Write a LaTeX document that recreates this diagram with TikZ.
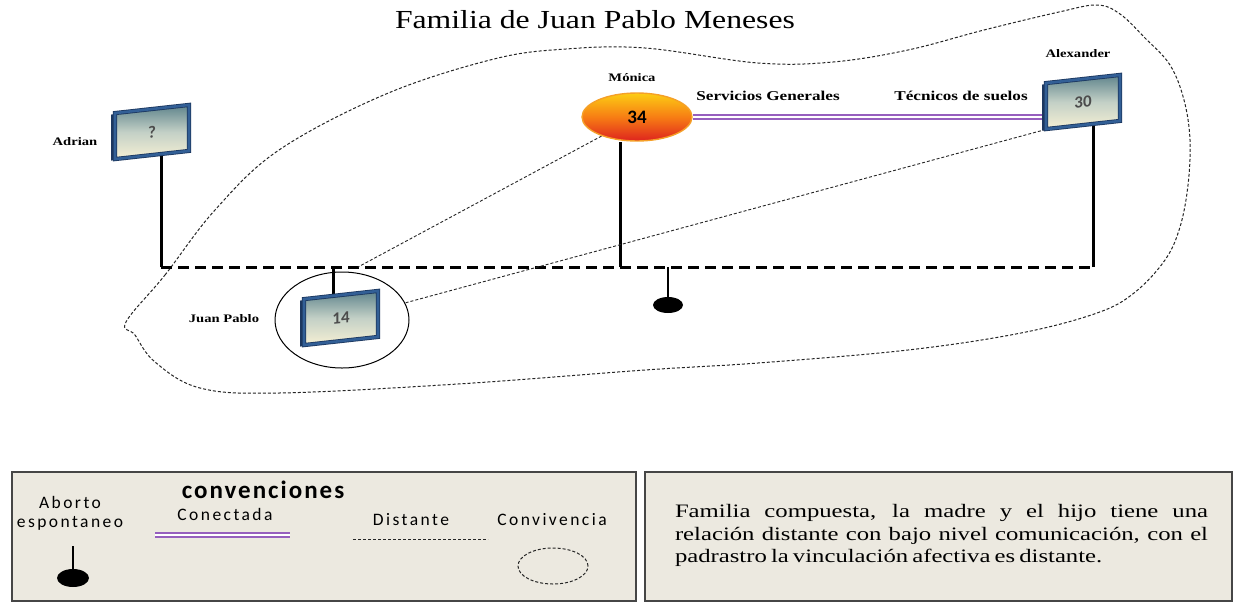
\documentclass[tikz,border=0pt]{standalone}
\usepackage{fontspec}
\setmainfont{Liberation Serif}
\newfontfamily\titlef[FakeStretch=1.22]{Liberation Serif}
\newfontfamily\labf[FakeStretch=1.27]{Liberation Serif}
\newfontfamily\notef[FakeStretch=1.3]{Liberation Serif}
\newfontfamily\calf{Carlito}
\newfontfamily\calls[LetterSpace=14]{Carlito}
\newfontfamily\calconv[LetterSpace=8]{Carlito}
\usetikzlibrary{shapes.geometric,backgrounds,shadows}

\definecolor{frameblue}{RGB}{50,95,150}
\definecolor{framedark}{RGB}{28,55,95}
\definecolor{paneltop}{RGB}{95,132,140}
\definecolor{panelmid}{RGB}{195,208,198}
\definecolor{panelbot}{RGB}{246,240,212}
\definecolor{conpurple}{RGB}{150,95,190}
\definecolor{legfill}{RGB}{236,233,224}
\definecolor{legdraw}{RGB}{70,70,70}
\definecolor{montop}{RGB}{252,205,20}
\definecolor{monmid}{RGB}{247,125,20}
\definecolor{monbot}{RGB}{222,35,30}
\definecolor{monrim}{RGB}{245,160,40}

\tikzset{
  person/.style={rectangle, draw=framedark, double=frameblue, double distance=2.6pt, line width=0.8pt,
    minimum width=74, minimum height=46,
    inner sep=0, top color=paneltop, bottom color=panelbot, middle color=panelmid, yslant=0.11,
    general shadow={fill=framedark, shadow xshift=-4pt, shadow yshift=-1.5pt},
    font=\calf\bfseries\fontsize{17}{17}\selectfont, text=black!70},
  mother/.style={ellipse, draw=monrim, line width=1.4pt, minimum width=110, minimum height=48, inner sep=0,
    top color=montop, bottom color=monbot, middle color=monmid,
    font=\calf\bfseries\fontsize{19}{19}\selectfont, text=black},
  namelab/.style={font=\labf\bfseries\fontsize{11.5}{12}\selectfont, inner sep=0},
  rellab/.style={font=\labf\bfseries\fontsize{13.5}{14}\selectfont, inner sep=0},
  stem/.style={line width=3pt},
  famline/.style={line width=3pt, dash pattern=on 11pt off 6pt},
  distant/.style={line width=0.9pt, dash pattern=on 3pt off 2pt, black!85},
  conectada/.style={draw=conpurple, double=white, double distance=2.2pt, line width=2pt},
  legbox/.style={rectangle, draw=legdraw, line width=2pt, fill=legfill, inner sep=0},
  legtext/.style={font=\calls\fontsize{17.5}{19}\selectfont, inner sep=0, align=center},
  abortion/.style={ellipse, fill=black, inner sep=0}
}

\begin{document}
\begin{tikzpicture}[x=1pt,y=-1pt]
\useasboundingbox (0,0) rectangle (1238,603);

% title
\node[font=\titlef\fontsize{26}{30}\selectfont, inner sep=0] (title) at (595,20) {Familia de Juan Pablo Meneses};

% people
\node[person] (adr) at (152,132) {?};
\node[mother] (mon) at (637,117) {34};
\node[person] (alex) at (1083,102) {30};
\node[person] (jp) at (341,318) {14};
\node[ellipse, draw, line width=1pt, minimum width=134, minimum height=96, inner sep=0] (jpc) at (342,320) {};
\node[abortion, minimum width=30, minimum height=16] (ab1) at (668,305) {};

% name labels
\node[namelab] (adrL) at (75,142) {Adrian};
\node[namelab] (monL) at (632,78) {Mónica};
\node[namelab] (alexL) at (1078,54) {Alexander};
\node[namelab] (jpL) at (224,319) {Juan Pablo};
\node[rellab] (servL) at (768,96) {Servicios Generales};
\node[rellab] (tecL) at (961,96) {Técnicos de suelos};

% junction coordinates
\coordinate (hA) at (161,267);
\coordinate (hJ) at (333,267);
\coordinate (mj) at (358,267);
\coordinate (hM) at (620,267);
\coordinate (abTop) at (668,267);
\coordinate (hX) at (1093,267);

\begin{pgfonlayer}{background}
\fill[white] (0,0) rectangle (1238,603);
% convivencia boundary
\draw[distant, line width=1pt] plot[smooth cycle, tension=0.6] coordinates {
  (126,322) (165,275) (215,210) (279,150) (386,94) (494,59) (566,49) (645,48)
  (758,63) (833,62) (908,50) (984,30) (1059,12) (1097,5) (1120,14) (1145,38)
  (1170,65) (1184,100) (1190,140) (1188,185) (1180,227) (1165,260) (1134,293)
  (1097,313) (1021,333) (908,350) (758,363) (645,370) (458,384) (279,393)
  (200,388) (155,362) (135,335)};
\draw[stem] (hA) -- (hA |- adr.south);
\draw[stem] (hM) -- (hM |- mon.south);
\draw[stem] (hX) -- (hX |- alex.south);
\draw[stem] (hJ) -- (hJ |- jp.north);
\draw[famline] (hA) -- (hX);
\draw[line width=1.8pt] (abTop) -- (ab1.north);
\draw[distant] (mon) -- (mj);
\draw[distant] (alex.south west) -- (jpc);
\draw[conectada] (mon.east) -- (mon.east -| alex.west);
\end{pgfonlayer}

% legend
\node[legbox, minimum width=624, minimum height=129] (leg) at (324,536.5) {};
\node[legbox, minimum width=587, minimum height=129] (note) at (938.5,536.5) {};

\node[font=\calconv\bfseries\fontsize{25}{25}\selectfont, inner sep=0] (convT) at (263,490) {convenciones};
\node[legtext] (abT) at (70,513) {Aborto\\espontaneo};
\node[legtext] (conT) at (225,514) {Conectada};
\node[legtext] (disT) at (411,520) {Distante};
\node[legtext] (cvT) at (552,520) {Convivencia};

\coordinate (cL1) at (155,535);
\coordinate (cL2) at (290,535);
\draw[conectada] (cL1) -- (cL2);
\coordinate (dL1) at (353,539);
\coordinate (dL2) at (488,539);
\draw[distant] (dL1) -- (dL2);
\node[ellipse, draw, distant, line width=1pt, minimum width=70, minimum height=36, inner sep=0] (cvE) at (553,566) {};
\node[abortion, minimum width=32, minimum height=18] (ab2) at (73,578) {};
\coordinate (ab2top) at (73,546);
\draw[line width=1.5pt] (ab2top) -- (ab2.north);

\node[font=\notef\fontsize{19}{22.5}\selectfont, inner sep=0, align=left] (noteT) at (941.5,535.5)
 {\makebox[533pt][s]{Familia compuesta, la madre y el hijo tiene una}\\
  \makebox[533pt][s]{relación distante con bajo nivel comunicación, con el}\\
  \makebox[427pt][s]{padrastro la vinculación afectiva es distante.}\hspace{106pt}};
\end{tikzpicture}
\end{document}
